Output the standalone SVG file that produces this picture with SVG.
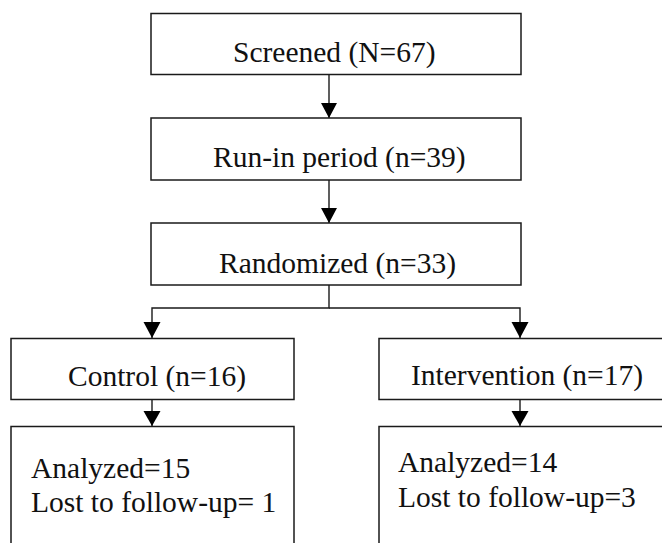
<svg xmlns="http://www.w3.org/2000/svg" width="662" height="543" viewBox="0 0 662 543">
<defs>
<style>
.box{fill:#fff;stroke:#1a1a1a;stroke-width:1.5}
.t{font-family:"Liberation Serif","Times New Roman",serif;font-size:29.5px;fill:#111}
.ln{fill:none;stroke:#1a1a1a;stroke-width:1.4}
.head{fill:#000}
</style>
<marker id="ah" markerWidth="17" markerHeight="16" refX="8.5" refY="16" orient="auto" markerUnits="userSpaceOnUse" viewBox="0 0 17 16">
<path d="M0,0 L17,0 L8.5,16 Z" fill="#000"/>
</marker>
</defs>
<rect width="662" height="543" fill="#fff"/>
<g id="connectors">
<line class="ln" x1="329" y1="75" x2="329" y2="118"/>
<path class="head" d="M321,103 L337,103 L329,118 Z"/>
<line class="ln" x1="329" y1="180" x2="329" y2="223"/>
<path class="head" d="M321,208 L337,208 L329,223 Z"/>
<polyline class="ln" points="329,285 329,308 152,308 152,338"/>
<polyline class="ln" points="329,308 520,308 520,338"/>
<path class="head" d="M143.5,322 L160.5,322 L152,338 Z"/>
<path class="head" d="M511.5,322 L528.5,322 L520,338 Z"/>
<line class="ln" x1="152" y1="399" x2="152" y2="426"/>
<path class="head" d="M143.5,411 L160.5,411 L152,426 Z"/>
<line class="ln" x1="520" y1="399" x2="520" y2="426"/>
<path class="head" d="M511.5,411 L528.5,411 L520,426 Z"/>
</g>
<g id="screened">
<rect class="box" x="151" y="13.5" width="370" height="61"/>
<text class="t" x="233" y="62">Screened (N=67)</text>
</g>
<g id="runin">
<rect class="box" x="151" y="118" width="370" height="62"/>
<text class="t" x="213" y="167">Run-in period (n=39)</text>
</g>
<g id="randomized">
<rect class="box" x="151" y="223" width="370" height="62"/>
<text class="t" x="219" y="273">Randomized (n=33)</text>
</g>
<g id="control">
<rect class="box" x="11" y="338.5" width="283" height="61"/>
<text class="t" x="68" y="386">Control (n=16)</text>
</g>
<g id="intervention">
<rect class="box" x="379" y="338.5" width="300" height="61"/>
<text class="t" x="411" y="385">Intervention (n=17)</text>
</g>
<g id="control-outcome">
<rect class="box" x="11" y="426.5" width="283" height="140"/>
<text class="t" x="31" y="478">Analyzed=15</text>
<text class="t" x="31" y="512">Lost to follow-up= 1</text>
</g>
<g id="intervention-outcome">
<rect class="box" x="379" y="426.5" width="300" height="140"/>
<text class="t" x="398" y="472">Analyzed=14</text>
<text class="t" x="398" y="507">Lost to follow-up=3</text>
</g>
</svg>
